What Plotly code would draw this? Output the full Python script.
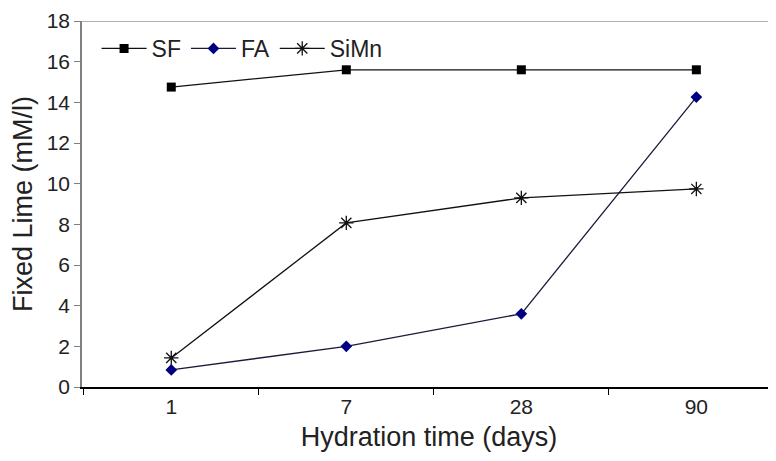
import plotly.graph_objects as go

days = ["1", "7", "28", "90"]
sf = [14.75, 15.6, 15.6, 15.6]
fa = [0.84, 2.0, 3.6, 14.26]
simn = [1.43, 8.07, 9.3, 9.74]
y_ticks = [0, 2, 4, 6, 8, 10, 12, 14, 16, 18]

fig = go.Figure()
fig.add_trace(go.Scatter(x=days, y=sf, name="SF", mode="lines+markers",
                         line=dict(color="#111111", width=1.3),
                         marker=dict(symbol="square", size=9, color="#000000")))
fig.add_trace(go.Scatter(x=days, y=fa, name="FA", mode="lines+markers",
                         line=dict(color="#1a1a3a", width=1.3),
                         marker=dict(symbol="diamond", size=9, color="#000080")))
fig.add_trace(go.Scatter(x=days, y=simn, name="SiMn", mode="lines+markers",
                         line=dict(color="#111111", width=1.3),
                         marker=dict(symbol="asterisk-open", size=12,
                                     line=dict(color="#111111", width=1.3))))

font = "Liberation Sans, Arial, sans-serif"
# page body has an 8px margin: compensate in figure size / margins
fig.update_layout(
    width=768, height=453,
    margin=dict(l=74, r=0, t=13, b=74),
    plot_bgcolor="white", paper_bgcolor="white",
    font=dict(family=font, size=21, color="#222222"),
    showlegend=True,
    legend=dict(orientation="h", x=0.021, y=0.925, xanchor="left", yanchor="middle",
                bgcolor="rgba(0,0,0,0)", font=dict(size=23),
                itemwidth=45, tracegroupgap=0),
    xaxis=dict(type="category", range=[-0.51, 3.455], showline=True, linecolor="#000000",
               linewidth=1.5, ticks="outside", tickson="boundaries", ticklen=6,
               tickcolor="#000000", showgrid=False, zeroline=False, automargin=False,
               title=dict(text="Hydration time (days)", font=dict(size=27), standoff=10)),
    yaxis=dict(range=[0, 18], tickvals=y_ticks, showline=True, linecolor="#808080",
               linewidth=1.5, ticks="outside", ticklen=6, tickcolor="#808080",
               showgrid=False, zeroline=False, automargin=False,
               title=dict(text="Fixed Lime (mM/l)", font=dict(size=27), standoff=8)),
    shapes=[dict(type="line", xref="paper", yref="y", x0=0, x1=1, y0=18, y1=18,
                 line=dict(color="#999999", width=1.5))],
)

fig.write_html("out.html")
